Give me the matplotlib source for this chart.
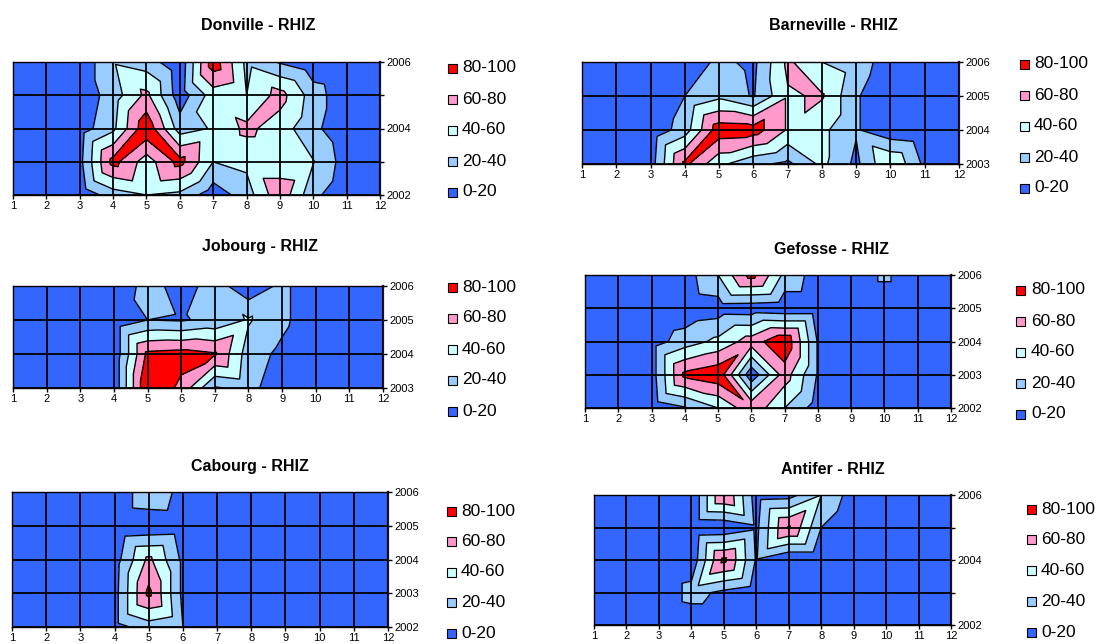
import numpy as np
import matplotlib
matplotlib.use("Agg")
import matplotlib.pyplot as plt
import matplotlib.tri as mtri
from matplotlib.patches import Rectangle

plt.rcParams['font.family'] = ['Liberation Sans', 'DejaVu Sans']

W, H = 1098, 644

months = list(range(1, 13))
levels = [-1, 20, 40, 60, 80, 101]
band_colors = ["#3366FF", "#99CCFF", "#CCFFFF", "#FF99CC", "#FF0000"]
band_labels = ["0-20", "20-40", "40-60", "60-80", "80-100"]

# RHIZ cover per site, one row per year, one column per month
donville_years = [2002, 2003, 2004, 2005, 2006]
donville = [
    [0, 0, 5, 30, 40, 35, 8, 30, 75, 25, 5, 0],
    [0, 0, 14, 87, 50, 87, 40, 45, 45, 41, 10, 0],
    [0, 0, 10, 35, 95, 30, 42, 65, 50, 25, 5, 0],
    [0, 0, 5, 30, 65, 8, 50, 40, 68, 30, 5, 0],
    [0, 0, 5, 38, 30, 5, 92, 35, 18, 5, 0, 0],
]

barneville_years = [2003, 2004, 2005, 2006]
barneville = [
    [0, 0, 10, 85, 45, 25, 15, 45, 15, 60, 15, 0],
    [0, 0, 5, 30, 92, 90, 58, 45, 22, 5, 0, 0],
    [0, 0, 0, 20, 35, 18, 58, 62, 22, 5, 0, 0],
    [0, 0, 0, 5, 25, 15, 64, 40, 30, 10, 0, 0],
]

jobourg_years = [2003, 2004, 2005, 2006]
jobourg = [
    [0, 0, 0, 5, 100, 75, 18, 25, 10, 0, 0, 0],
    [0, 0, 0, 5, 85, 88, 82, 30, 15, 0, 0, 0],
    [0, 0, 0, 5, 20, 18, 25, 42, 25, 5, 0, 0],
    [0, 0, 0, 0, 30, 10, 30, 5, 25, 5, 0, 0],
]

gefosse_years = [2002, 2003, 2004, 2005, 2006]
gefosse = [
    [0, 0, 5, 18, 40, 75, 40, 10, 0, 0, 0, 0],
    [0, 0, 10, 85, 95, 5, 70, 18, 5, 0, 0, 0],
    [0, 0, 10, 30, 45, 70, 97, 18, 5, 0, 0, 0],
    [0, 0, 0, 5, 9, 8, 5, 5, 0, 0, 0, 0],
    [0, 0, 0, 10, 40, 88, 35, 10, 0, 25, 0, 0],
]

cabourg_years = [2002, 2003, 2004, 2005, 2006]
cabourg = [
    [0, 0, 0, 12, 30, 20, 0, 0, 0, 0, 0, 0],
    [0, 0, 0, 12, 85, 15, 0, 0, 0, 0, 0, 0],
    [0, 0, 0, 10, 65, 15, 0, 0, 0, 0, 0, 0],
    [0, 0, 0, 0, 3, 5, 0, 0, 0, 0, 0, 0],
    [0, 0, 0, 0, 38, 12, 0, 0, 0, 0, 0, 0],
]

antifer_years = [2002, 2003, 2004, 2005, 2006]
antifer = [
    [0, 0, 0, 5, 5, 0, 0, 0, 0, 0, 0, 0],
    [0, 0, 0, 28, 15, 5, 0, 0, 0, 0, 0, 0],
    [0, 0, 0, 5, 85, 18, 0, 0, 0, 0, 0, 0],
    [0, 0, 0, 0, 2, 15, 82, 20, 0, 0, 0, 0],
    [0, 0, 0, 0, 82, 10, 12, 40, 10, 0, 0, 0],
]

# name, years, values, plot box (px: left, top, right, bottom), title centre,
# labelled years, legend (square x, text x, first y, step)
panels = [
    ("Donville - RHIZ", donville_years, donville, (13, 62, 380, 195), (258, 26),
     [2002, 2004, 2006], (448, 462, 68, 31)),
    ("Barneville - RHIZ", barneville_years, barneville, (582, 62, 959, 164), (833, 25),
     barneville_years, (1020, 1034, 64, 31)),
    ("Jobourg - RHIZ", jobourg_years, jobourg, (13, 286, 383, 388), (260, 247),
     jobourg_years, (448, 462, 287, 31)),
    ("Gefosse - RHIZ", gefosse_years, gefosse, (585, 275, 951, 408), (832, 249),
     gefosse_years, (1016, 1031, 290, 31)),
    ("Cabourg - RHIZ", cabourg_years, cabourg, (12, 492, 388, 627), (250, 466),
     cabourg_years, (447, 461, 511, 30.5)),
    ("Antifer - RHIZ", antifer_years, antifer, (594, 495, 951, 625), (833, 470),
     [2002, 2004, 2006], (1027, 1041, 509, 30.8)),
]


def split_cells(xs, ys, z):
    # each cell cut into four triangles meeting at its centre; the centre takes
    # the mean of the higher diagonal so ridges stay connected across cells
    z = np.asarray(z, float)
    nx, ny = len(xs), len(ys)
    X, Y = np.meshgrid(xs, ys)
    px, py, pz = list(X.ravel()), list(Y.ravel()), list(z.ravel())
    tris = []
    for j in range(ny - 1):
        for i in range(nx - 1):
            a = j * nx + i
            b, c, d = a + 1, a + nx + 1, a + nx
            px.append((xs[i] + xs[i + 1]) / 2)
            py.append((ys[j] + ys[j + 1]) / 2)
            d1 = (z[j, i] + z[j + 1, i + 1]) / 2
            d2 = (z[j, i + 1] + z[j + 1, i]) / 2
            pz.append(max(d1, d2))
            m = len(px) - 1
            tris += [[a, b, m], [b, c, m], [c, d, m], [d, a, m]]
    return mtri.Triangulation(px, py, tris), np.array(pz)


fig = plt.figure(figsize=(W / 100, H / 100), dpi=100)

for name, years, values, box, tpos, ylab, key in panels:
    l, t, r, b = box
    ax = fig.add_axes([l / W, 1 - b / H, (r - l) / W, (b - t) / H])
    tri, z = split_cells(months, years, values)
    ax.tricontourf(tri, z, levels=levels, colors=band_colors, zorder=1)
    ax.tricontour(tri, z, levels=levels[1:-1], colors="black", linewidths=1.0, zorder=2)
    for m in months:
        ax.axvline(m, color="black", lw=1.3, zorder=3)
    for y in years:
        ax.axhline(y, color="black", lw=1.3, zorder=3)
    ax.set_xlim(1, 12)
    ax.set_ylim(years[0], years[-1])
    ax.set_xticks(months)
    ax.set_xticklabels([str(m) for m in months], fontsize=8)
    ax.yaxis.tick_right()
    ax.set_yticks(years)
    ax.set_yticklabels([str(y) if y in ylab else "" for y in years], fontsize=8)
    ax.tick_params(axis="both", direction="out", length=3, width=1, pad=1.5, colors="black")
    for s in ax.spines.values():
        s.set_color("black")
        s.set_linewidth(1.0)
    ax.spines["right"].set_color("#10103a")
    ax.spines["right"].set_linewidth(1.6)

    fig.text(tpos[0] / W, 1 - tpos[1] / H, name, ha="center", va="center",
             fontsize=11.5, fontweight="bold")

    sx, tx, y0, step = key
    for k, (lab, col) in enumerate(zip(band_labels[::-1], band_colors[::-1])):
        yc = y0 + k * step
        fig.add_artist(Rectangle((sx / W, 1 - (yc + 4.5) / H), 9 / W, 9 / H,
                                 transform=fig.transFigure, facecolor=col,
                                 edgecolor="black", lw=0.8))
        fig.text(tx / W, 1 - yc / H, lab, ha="left", va="center", fontsize=12.5)

fig.savefig("out.png", dpi=100)
